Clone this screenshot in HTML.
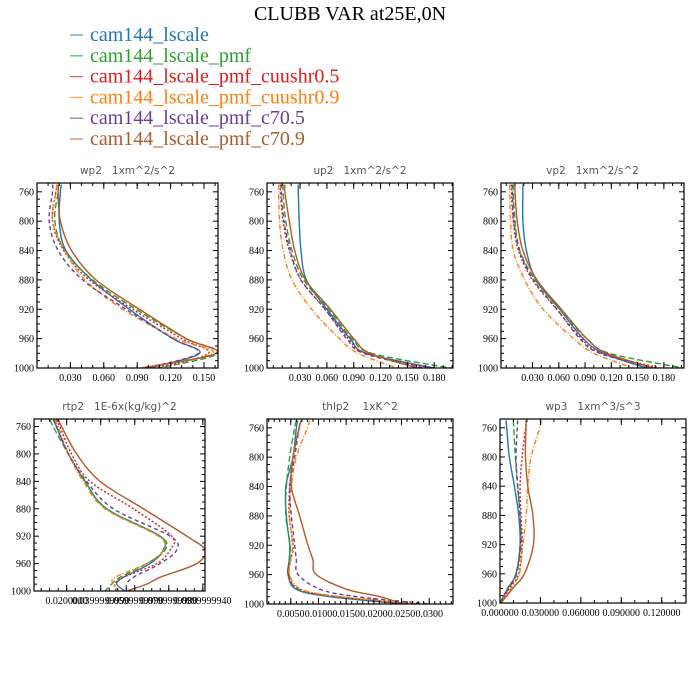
<!DOCTYPE html>
<html><head><meta charset="utf-8"><style>
html,body{margin:0;padding:0;background:#fff;}
svg{display:block;}
.pt{white-space:pre;}
</style></head><body>
<svg id="chart" width="700" height="700" viewBox="0 0 700 700" xmlns="http://www.w3.org/2000/svg">
<rect x="0" y="0" width="700" height="700" fill="#fff"/>
<text x="350" y="20" text-anchor="middle" font-family="Liberation Serif, serif" font-size="20" fill="#000">CLUBB VAR at25E,0N</text>
<g id="legend"></g>
<g id="panels"></g>
</svg>
<script>
const seriesNames = ["cam144_lscale","cam144_lscale_pmf","cam144_lscale_pmf_cuushr0.5","cam144_lscale_pmf_cuushr0.9","cam144_lscale_pmf_c70.5","cam144_lscale_pmf_c70.9"];
const seriesColors = ["#1f77b4","#2ca02c","#e31a1c","#ff7f0e","#6a3d9a","#b15928"];
const seriesDash = ["","6,3","2,2","5,2,1,2","4,3",""];

const levA = [750,760,800,840,880,920,960,980,1000];
const levB = [750,760,800,840,880,920,940,960,980,990,1000];

const wp2Vals = [
 [0.022,0.021,0.020,0.026,0.049,0.083,0.122,0.146,0.101],
 [0.019,0.019,0.016,0.025,0.050,0.089,0.134,0.163,0.110],
 [0.018,0.017,0.014,0.024,0.047,0.086,0.130,0.154,0.107],
 [0.018,0.017,0.014,0.025,0.043,0.077,0.125,0.158,0.092],
 [0.014,0.014,0.011,0.019,0.041,0.080,0.122,0.145,0.098],
 [0.020,0.019,0.021,0.031,0.053,0.092,0.134,0.161,0.095]];
const up2Vals = [
 [0.028,0.028,0.029,0.031,0.037,0.060,0.086,0.104,0.180],
 [0.011,0.011,0.014,0.021,0.034,0.062,0.088,0.110,0.198],
 [0.008,0.008,0.011,0.018,0.031,0.058,0.084,0.103,0.176],
 [0.006,0.006,0.007,0.011,0.021,0.043,0.074,0.095,0.138],
 [0.009,0.009,0.012,0.019,0.031,0.058,0.082,0.101,0.168],
 [0.013,0.013,0.018,0.024,0.036,0.064,0.090,0.108,0.161]];
const vp2Vals = [
 [0.019,0.019,0.019,0.023,0.034,0.061,0.088,0.111,0.160],
 [0.008,0.008,0.010,0.0155,0.033,0.061,0.092,0.118,0.202],
 [0.006,0.006,0.008,0.014,0.030,0.0575,0.086,0.109,0.176],
 [0.004,0.004,0.005,0.008,0.021,0.042,0.077,0.100,0.145],
 [0.007,0.007,0.0087,0.015,0.031,0.058,0.084,0.107,0.168],
 [0.010,0.010,0.0125,0.019,0.035,0.063,0.092,0.115,0.168]];
const rtp2Vals = [
 [0.0122,0.014,0.0210,0.0308,0.0435,0.0749,0.0768,0.0690,0.0533,0.0494,0.0543],
 [0.0102,0.012,0.0210,0.0308,0.0435,0.0749,0.0778,0.0670,0.0513,0.0464,0.0425],
 [0.0141,0.016,0.0229,0.0337,0.0592,0.0817,0.0808,0.0729,0.0533,0.0484,0.0494],
 [0.0131,0.015,0.0210,0.0298,0.0425,0.0739,0.0768,0.0670,0.0484,0.0474,0.0504],
 [0.0122,0.014,0.0210,0.0317,0.0474,0.0808,0.0847,0.0749,0.0592,0.0553,0.0553],
 [0.0151,0.017,0.0259,0.0396,0.0651,0.0906,0.1013,0.0964,0.0749,0.0670,0.0553]];
const thlp2Vals = [
 [0.0063,0.0060,0.0054,0.0041,0.0042,0.0048,0.0047,0.0045,0.0060,0.0121,0.0254],
 [0.0060,0.0057,0.0048,0.0042,0.0041,0.0049,0.0048,0.0047,0.0063,0.0133,0.0277],
 [0.0069,0.0065,0.0054,0.0048,0.0047,0.0054,0.0050,0.0045,0.0066,0.0133,0.0265],
 [0.0084,0.0080,0.0060,0.0051,0.0048,0.0053,0.0050,0.0048,0.0069,0.0139,0.0283],
 [0.0069,0.0065,0.0057,0.0048,0.0051,0.0057,0.0060,0.0063,0.0103,0.0169,0.0302],
 [0.0069,0.0065,0.0054,0.0051,0.0066,0.0081,0.0090,0.0096,0.0151,0.0211,0.0253]];
const wp3Vals = [
 [0.0045,0.0050,0.0069,0.0107,0.0139,0.0149,0.0119,0.0057,0.0000],
 [0.0099,0.0102,0.0114,0.0131,0.0149,0.0156,0.0124,0.0064,0.0000],
 [0.0194,0.0190,0.0164,0.0149,0.0156,0.0164,0.0139,0.0069,0.0008],
 [0.0306,0.0295,0.0231,0.0206,0.0194,0.0169,0.0144,0.0082,0.0008],
 [0.0131,0.0128,0.0119,0.0131,0.0149,0.0151,0.0119,0.0057,0.0000],
 [0.0194,0.0193,0.0189,0.0206,0.0244,0.0248,0.0181,0.0094,0.0008]];

const yTicks = [760,800,840,880,920,960,1000];
const wp2Ticks = [0.03,0.06,0.09,0.12,0.15];
const wp2Labels = ["0.030","0.060","0.090","0.120","0.150"];
const uvTicks = [0.03,0.06,0.09,0.12,0.15,0.18];
const uvLabels = ["0.030","0.060","0.090","0.120","0.150","0.180"];
const rtpTicks = [0.02,0.04,0.06,0.08,0.10];
const rtpLabels = ["0.0200000","0.0399999990","0.0599999990","0.0799999980","0.0999999940"];
const thlTicks = [0.005,0.010,0.015,0.020,0.025,0.030];
const thlLabels = ["0.0050","0.0100","0.0150","0.0200","0.0250","0.0300"];
const wp3Ticks = [0,0.03,0.06,0.09,0.12];
const wp3Labels = ["0.000000","0.030000","0.060000","0.090000","0.120000"];

const NS = "http://www.w3.org/2000/svg";
function mk(tag, attrs, parent){const e=document.createElementNS(NS,tag);for(const k in attrs)e.setAttribute(k,attrs[k]);if(parent)parent.appendChild(e);return e;}

const legend = document.getElementById('legend');
seriesNames.forEach((n,i)=>{
  const y = 41 + i*20.8;
  const ln = mk('line',{x1:70,x2:83,y1:y-6,y2:y-6,stroke:seriesColors[i],'stroke-width':1.3,opacity:0.7},legend);
  
  
  const t = mk('text',{x:90,y:y,'font-family':'Liberation Serif, serif','font-size':20,fill:seriesColors[i]},legend);
  t.textContent = n;
  
  
});

const panels = [
 {name:'wp2',title:'wp2   1xm^2/s^2',x0:37,x1:218,y0:183,y1:368,xmin:0,xmax:0.1626,pTop:748,lev:levA,vals:wp2Vals,ticks:wp2Ticks,labels:wp2Labels,minor:0.01},
 {name:'up2',title:'up2   1xm^2/s^2',x0:267,x1:453,y0:183,y1:368,xmin:-0.007,xmax:0.201,pTop:748,lev:levA,vals:up2Vals,ticks:uvTicks,labels:uvLabels,minor:0.01},
 {name:'vp2',title:'vp2   1xm^2/s^2',x0:501,x1:684,y0:183,y1:368,xmin:-0.006,xmax:0.203,pTop:748,lev:levA,vals:vp2Vals,ticks:uvTicks,labels:uvLabels,minor:0.01},
 {name:'rtp2',title:'rtp2   1E-6x(kg/kg)^2',x0:34,x1:205,y0:419,y1:591,xmin:0.0008,xmax:0.1013,pTop:749,lev:levB,vals:rtp2Vals,ticks:rtpTicks,labels:rtpLabels,minor:0.005},
 {name:'thlp2',title:'thlp2    1xK^2',x0:267,x1:453,y0:419,y1:604,xmin:0.0007,xmax:0.0343,pTop:748,lev:levB,vals:thlp2Vals,ticks:thlTicks,labels:thlLabels,minor:0.001},
 {name:'wp3',title:'wp3   1xm^3/s^3',x0:500,x1:686,y0:419,y1:603,xmin:0,xmax:0.138,pTop:748,lev:levA,vals:wp3Vals,ticks:wp3Ticks,labels:wp3Labels,minor:0.01}
];

const root = document.getElementById('panels');
panels.forEach(p=>{
  const g = mk('g',{},root);
  
  
  const X = v => p.x0 + (v-p.xmin)/(p.xmax-p.xmin)*(p.x1-p.x0);
  const Y = pr => p.y0 + (pr-p.pTop)/(1000-p.pTop)*(p.y1-p.y0);
  const tt = mk('text',{class:'pt',x:(p.x0+p.x1)/2,y:p.y0-9,'text-anchor':'middle','font-family':'DejaVu Sans, Liberation Sans, sans-serif','font-size':10.5,fill:'#555'},g);
  tt.textContent = p.title;
  
  
  const cid='clip-'+p.name;
  const cp = mk('clipPath',{id:cid},g);
  mk('rect',{x:p.x0,y:p.y0,width:p.x1-p.x0,height:p.y1-p.y0},cp);
  const sg = mk('g',{'clip-path':'url(#'+cid+')'},g);
  p.vals.forEach((arr,si)=>{
    const pts = arr.map((v,i)=>[X(v),Y(p.lev[i])]);
    let d='M'+pts[0][0].toFixed(2)+','+pts[0][1].toFixed(2);
    for(let i=0;i<pts.length-1;i++){
      const p0=pts[Math.max(0,i-1)],p1=pts[i],p2=pts[i+1],p3=pts[Math.min(pts.length-1,i+2)];
      const c1=[p1[0]+(p2[0]-p0[0])/6,p1[1]+(p2[1]-p0[1])/6];
      const c2=[p2[0]-(p3[0]-p1[0])/6,p2[1]-(p3[1]-p1[1])/6];
      d+=' C'+c1[0].toFixed(2)+','+c1[1].toFixed(2)+' '+c2[0].toFixed(2)+','+c2[1].toFixed(2)+' '+p2[0].toFixed(2)+','+p2[1].toFixed(2);
    }
    const path = mk('path',{d:d,fill:'none',stroke:seriesColors[si],'stroke-width':1.4},sg);
    if(seriesDash[si]) path.setAttribute('stroke-dasharray',seriesDash[si]);
    
    
  });
  const fr = mk('rect',{x:p.x0,y:p.y0,width:p.x1-p.x0,height:p.y1-p.y0,fill:'none',stroke:'#000','stroke-width':1.2},g);
  
  
  for(let pr=760;pr<=1000;pr+=10){
    const y=Y(pr), major=(pr%40===0), L=major?5:3;
    mk('line',{x1:p.x0,x2:p.x0+L,y1:y,y2:y,stroke:'#000','stroke-width':1},g);
    mk('line',{x1:p.x1,x2:p.x1-L,y1:y,y2:y,stroke:'#000','stroke-width':1},g);
  }
  yTicks.forEach(pr=>{
    const t=mk('text',{x:p.x0-3,y:Y(pr)+3.5,'text-anchor':'end','font-family':'Liberation Serif, serif','font-size':10,fill:'#000'},g);
    t.textContent=pr;
    
    
  });
  const start=Math.ceil(p.xmin/p.minor-1e-9);
  for(let k=start;k*p.minor<=p.xmax+1e-9;k++){
    const x=X(k*p.minor);
    mk('line',{x1:x,x2:x,y1:p.y1,y2:p.y1-3,stroke:'#000','stroke-width':1},g);
    mk('line',{x1:x,x2:x,y1:p.y0,y2:p.y0+3,stroke:'#000','stroke-width':1},g);
  }
  p.ticks.forEach((v,i)=>{
    const x=X(v);
    mk('line',{x1:x,x2:x,y1:p.y1,y2:p.y1-6,stroke:'#000','stroke-width':1},g);
    mk('line',{x1:x,x2:x,y1:p.y0,y2:p.y0+6,stroke:'#000','stroke-width':1},g);
    const t=mk('text',{x:x,y:p.y1+13,'text-anchor':'middle','font-family':'Liberation Serif, serif','font-size':10,fill:'#000'},g);
    t.textContent=p.labels[i];
    
    
  });
});
</script>
</body></html>
